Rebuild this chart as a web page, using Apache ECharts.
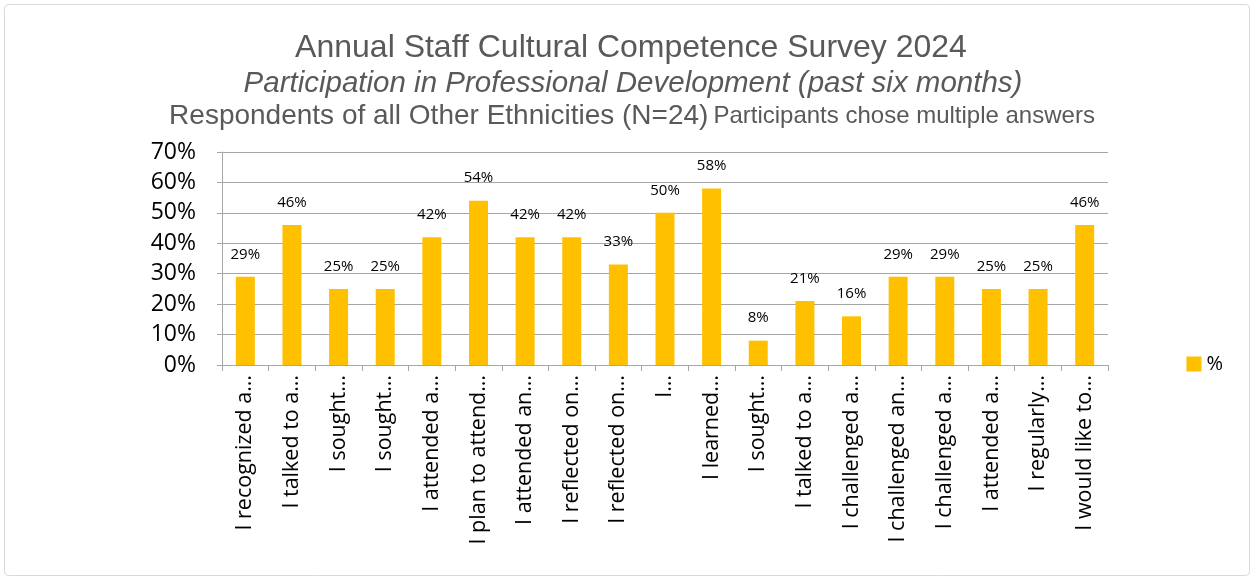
<!DOCTYPE html>
<html><head><meta charset="utf-8">
<script src="https://cdn.jsdelivr.net/npm/echarts@6/dist/echarts.min.js"></script>
<style>html,body{margin:0;padding:0;background:#fff}#c{width:1254px;height:580px}</style>
</head><body><div id="c"></div>
<script>
const categories = ["I recognized a…","I talked to a…","I sought…","I sought…","I attended a…","I plan to attend…","I attended an…","I reflected on…","I reflected on…","I…","I learned…","I sought…","I talked to a…","I challenged a…","I challenged an…","I challenged a…","I attended a…","I regularly…","I would like to…"];
const values = [29,46,25,25,42,54,42,42,33,50,58,8,21,16,29,29,25,25,46];
const yTicks = [0,10,20,30,40,50,60,70];
const seriesName = "%";

const TF = 'Liberation Sans, Arial, sans-serif';
const chart = echarts.init(document.getElementById('c'));
chart.setOption({
  animation:false,
  graphic:[{type:'rect',shape:{x:4.5,y:4.5,width:1245,height:571,r:4},style:{fill:'none',stroke:'#d9d9d9',lineWidth:1}}],
  title:[
    {text:'Annual Staff Cultural Competence Survey 2024',left:626,textAlign:'center',top:27,textStyle:{fontFamily:TF,fontSize:32,fontWeight:'normal',color:'#595959'}},
    {text:'Participation in Professional Development (past six months)',left:628,textAlign:'center',top:64,textStyle:{fontFamily:TF,fontSize:29.5,fontStyle:'italic',fontWeight:'normal',color:'#595959'}},
    {text:'{a|Respondents of all Other Ethnicities (N=24)} {b|Participants chose multiple answers}',left:627,textAlign:'center',top:97,textStyle:{fontWeight:'normal',rich:{a:{fontFamily:TF,fontSize:28,fontWeight:'normal',color:'#595959'},b:{fontFamily:TF,fontSize:24,fontWeight:'normal',color:'#595959'}}}}
  ],
  legend:{right:26,top:349,itemWidth:15,itemHeight:15,itemGap:6,icon:'rect',textStyle:{fontFamily:'Open Sans',fontSize:20,color:'#000'},data:[seriesName]},
  grid:{left:222,right:146,top:152,bottom:215,containLabel:false},
  xAxis:{type:'category',data:categories,
    axisLine:{lineStyle:{color:'#a6a6a6'}},
    axisTick:{show:true,length:6,lineStyle:{color:'#a6a6a6'}},
    axisLabel:{rotate:90,interval:0,margin:10,fontFamily:'Open Sans',fontSize:21.5,color:'#000'}},
  yAxis:{type:'value',min:0,max:70,interval:10,
    axisLine:{show:true,lineStyle:{color:'#a6a6a6'}},
    axisTick:{show:true,length:5,lineStyle:{color:'#a6a6a6'}},
    splitLine:{lineStyle:{color:'#a6a6a6'}},
    axisLabel:{margin:26,fontFamily:'Open Sans',fontSize:23,color:'#000',formatter:v=>yTicks.includes(v)?v+'%':''}},
  series:[{name:seriesName,type:'bar',data:values,barWidth:19,itemStyle:{color:'#FFC000'},
    label:{show:true,position:'top',distance:15,fontFamily:'Open Sans',fontSize:15,color:'#000',formatter:p=>p.value+'%'}}]
});
</script></body></html>
